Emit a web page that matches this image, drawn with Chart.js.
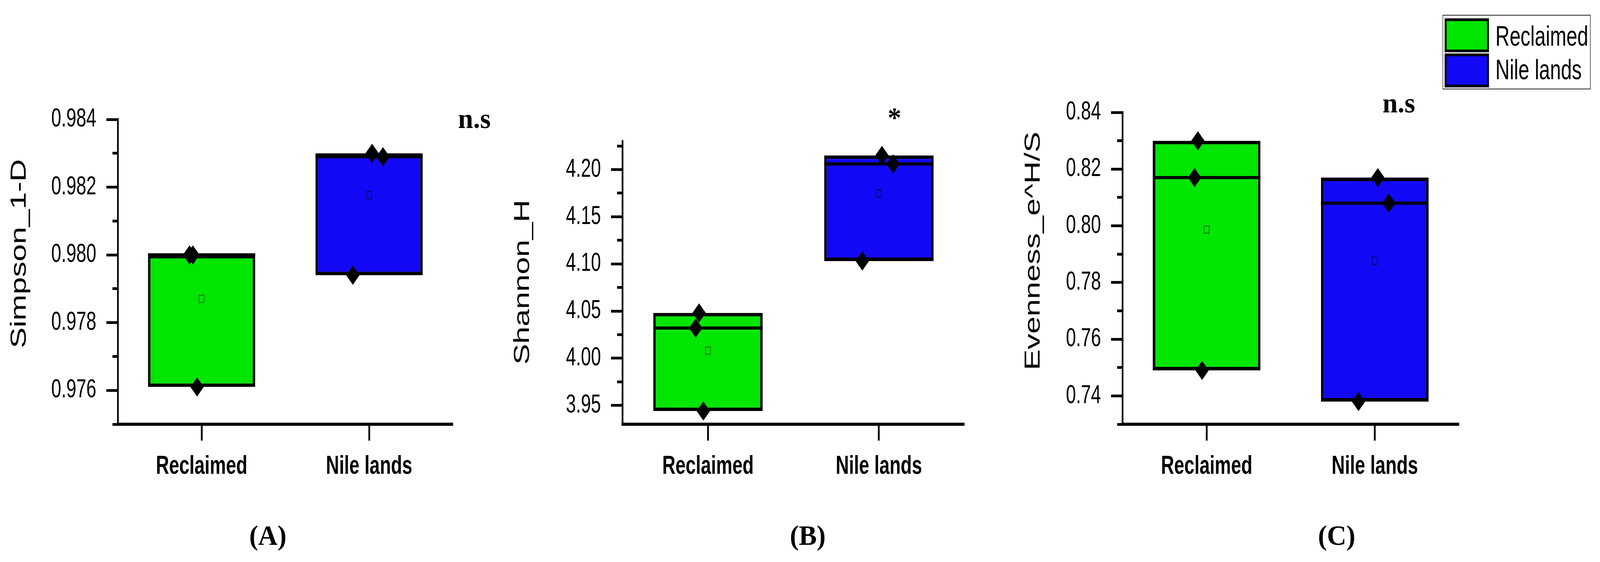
<!DOCTYPE html>
<html>
<head>
<meta charset="utf-8">
<script src="https://cdn.jsdelivr.net/npm/chart.js@4.4.1/dist/chart.umd.min.js"></script>
<style>
  html, body { margin: 0; padding: 0; background: #fff; overflow: hidden; }
  #page { position: relative; width: 4223px; height: 1440px; overflow: hidden; transform-origin: 0 0; }
  /* the source figure is squeezed horizontally, so the plots are drawn wide and compressed */
  #plots { position: absolute; left: 0; top: 0; width: 5866px; height: 1440px; transform: scaleX(0.72); transform-origin: 0 0; }
  #plots canvas { position: absolute; top: 0; }
  .note { position: absolute; font-family: 'Liberation Serif', 'Times New Roman', serif; font-weight: bold; line-height: 1; white-space: nowrap; transform: translateX(-50%); color: #000; }
  .lg { position: absolute; box-sizing: border-box; }
  .lg-text { position: absolute; font-family: 'Liberation Sans', Arial, sans-serif; font-size: 72px; line-height: 1; white-space: nowrap; color: #000; }
</style>
</head>
<body>
<div id="page">
  <div id="plots">
    <canvas id="chartA" width="1800" height="1440" style="left:0px"></canvas>
    <canvas id="chartB" width="1900" height="1440" style="left:1800px"></canvas>
    <canvas id="chartC" width="2166" height="1440" style="left:3700px"></canvas>
  </div>
</div>
<script>
// data
const categories = ['Reclaimed', 'Nile lands'];

const simpsonReclaimed = [0.9800, 0.9800, 0.9761];
const simpsonNile = [0.9830, 0.9829, 0.9794];
const shannonReclaimed = [4.048, 4.032, 3.944];
const shannonNile = [4.215, 4.206, 4.103];
const evennessReclaimed = [0.830, 0.817, 0.749];
const evennessNile = [0.817, 0.808, 0.738];

const simpsonTicks = ['0.976', '0.978', '0.980', '0.982', '0.984'];
const shannonTicks = ['3.95', '4.00', '4.05', '4.10', '4.15', '4.20'];
const evennessTicks = ['0.74', '0.76', '0.78', '0.80', '0.82', '0.84'];

const axisTitles = ['Simpson_1-D', 'Shannon_H', 'Evenness_e^H/S'];
const significance = ['n.s', '*', 'n.s'];
const panelLetters = ['(A)', '(B)', '(C)'];

// styles
const FILL = ['#00e600', '#1208f5'];
const MEAN_EDGE = ['#007a00', '#08066e'];
const JITTER = [[-0.052, -0.072, -0.027], [0.018, 0.083, -0.097]];
const CHART_BOTTOM = 1087;
const X_AXIS_HEIGHT = 250;

// fit the 4223x1440 design to whatever viewport we get
const page = document.getElementById('page');
const vw = document.documentElement.clientWidth || window.innerWidth;
const vh = document.documentElement.clientHeight || window.innerHeight;
page.style.transform = 'scale(' + (vw / 4223) + ',' + (vh / 1440) + ')';

Chart.defaults.font.family = "'Liberation Sans', Arial, sans-serif";
Chart.defaults.color = '#000';

const panels = [
  { id: 'chartA', groups: [simpsonReclaimed, simpsonNile], tickLabels: simpsonTicks, min: 0.975, max: 0.984,
    yWidth: 432, top: 306, right: 140, titleX: 72, titleY: 650 },
  { id: 'chartB', groups: [shannonReclaimed, shannonNile], tickLabels: shannonTicks, min: 3.93, max: 4.23,
    yWidth: 482, top: 362, right: 165, titleX: 117, titleY: 723 },
  { id: 'chartC', groups: [evennessReclaimed, evennessNile], tickLabels: evennessTicks, min: 0.73, max: 0.84,
    yWidth: 415, top: 288, right: 518, titleX: 89, titleY: 643 }
];

// labelled ticks plus unlabelled half-step ticks
function buildTicks(labels, min, max) {
  const majors = labels.map(t => ({ value: parseFloat(t), text: t, minor: false }));
  const step = majors[1].value - majors[0].value;
  const minors = [];
  for (let i = -1; i < majors.length; i++) {
    const base = i < 0 ? majors[0].value - step : majors[i].value;
    const v = +(base + step / 2).toFixed(6);
    if (v >= min - 1e-9 && v <= max + 1e-9) minors.push({ value: v, text: '', minor: true });
  }
  return majors.concat(minors).sort((a, b) => a.value - b.value);
}

function median(arr) {
  const s = [...arr].sort((a, b) => a - b);
  return s[Math.floor(s.length / 2)];
}

const yTitlePlugin = {
  id: 'yTitle',
  afterDraw(chart, args, opts) {
    const ctx = chart.ctx;
    ctx.save();
    ctx.translate(opts.x, opts.y);
    ctx.rotate(-Math.PI / 2);
    ctx.font = "80px 'Liberation Sans', Arial, sans-serif";
    ctx.fillStyle = '#000';
    ctx.textAlign = 'center';
    ctx.textBaseline = 'middle';
    ctx.fillText(opts.text, 0, 0);
    ctx.restore();
  }
};

panels.forEach((p, idx) => {
  const ticks = buildTicks(p.tickLabels, p.min, p.max);
  const boxes = p.groups.map(g => [Math.min(...g), Math.max(...g)]);
  const medians = p.groups.map(median);
  const means = p.groups.map(g => g.reduce((s, v) => s + v, 0) / g.length);
  const samples = [];
  p.groups.forEach((g, ci) => g.forEach((v, k) => samples.push({ x: ci + JITTER[ci][k], y: v })));

  new Chart(document.getElementById(p.id), {
    type: 'bar',
    data: {
      labels: categories,
      datasets: [
        {
          label: 'range', data: boxes, order: 4, grouped: false,
          backgroundColor: FILL, borderColor: '#000', borderWidth: 9, borderSkipped: false,
          barPercentage: 0.64, categoryPercentage: 1
        },
        {
          type: 'line', label: 'median', data: medians, order: 3, showLine: false,
          pointStyle: 'line', pointBorderColor: '#000', pointBorderWidth: 8,
          pointRadius: ctx => {
            const bar = ctx.chart.getDatasetMeta(0).data[ctx.dataIndex];
            return bar ? bar.width / 2 : 0;
          }
        },
        {
          type: 'line', label: 'mean', data: means, order: 2, showLine: false,
          pointStyle: 'rect', pointRadius: 13, pointBorderWidth: 2.5,
          pointBackgroundColor: 'rgba(0,0,0,0)', pointBorderColor: MEAN_EDGE
        },
        {
          type: 'line', label: 'samples', xAxisID: 'xj', data: samples, order: 1, showLine: false,
          pointStyle: 'rectRot', pointRadius: 24, pointBorderWidth: 1,
          pointBackgroundColor: '#000', pointBorderColor: '#000'
        }
      ]
    },
    options: {
      responsive: false,
      animation: false,
      events: [],
      layout: { padding: { top: p.top, right: p.right, bottom: 1440 - CHART_BOTTOM - X_AXIS_HEIGHT, left: 0 } },
      plugins: {
        legend: { display: false },
        tooltip: { enabled: false },
        yTitle: { text: axisTitles[idx], x: p.titleX, y: p.titleY }
      },
      scales: {
        x: {
          type: 'category', offset: true,
          grid: { offset: false, drawOnChartArea: false, tickLength: 42, tickWidth: 6.5, tickColor: '#000' },
          border: { color: '#000', width: 8 },
          ticks: { color: '#000', font: { size: 67, weight: 'bold' }, padding: 26, maxRotation: 0, autoSkip: false },
          afterFit: s => { s.height = X_AXIS_HEIGHT; }
        },
        xj: { type: 'linear', display: false, offset: false, min: -0.5, max: 1.5 },
        y: {
          type: 'linear', min: p.min, max: p.max,
          afterBuildTicks: s => { s.ticks = ticks.map(t => ({ ...t })); },
          ticks: { color: '#000', font: { size: 66 }, padding: 37, autoSkip: false,
                   callback: (v, i, all) => all[i].text },
          grid: {
            drawOnChartArea: false, tickLength: 42, tickWidth: 7, tickColor: '#000',
            tickBorderDash: ctx => (ctx.tick && ctx.tick.minor) ? [0, 22, 24, 200] : []
          },
          border: { color: '#000', width: 6 },
          afterFit: s => { s.width = p.yWidth; }
        }
      }
    },
    plugins: [yTitlePlugin]
  });
});

// legend (inside the compressed layer)
const plots = document.getElementById('plots');
function addBox(left, top, w, h, css) {
  const d = document.createElement('div');
  d.className = 'lg';
  Object.assign(d.style, { left: left + 'px', top: top + 'px', width: w + 'px', height: h + 'px' }, css);
  plots.appendChild(d);
}
addBox(5288, 38, 543, 191, { border: '2px solid #222', background: '#fff' });
const swatchTops = [47, 137];
const textBaselines = [117, 203];
categories.forEach((c, i) => {
  addBox(5296, swatchTops[i], 162, 87, { border: '7px solid #000', background: FILL[i] });
  const t = document.createElement('div');
  t.className = 'lg-text';
  t.textContent = c;
  t.style.left = '5482px';
  t.style.top = (textBaselines[i] - 0.8465 * 72) + 'px';
  plots.appendChild(t);
});

// significance marks and panel letters (not compressed)
const notes = [
  { text: significance[0], x: 1252, base: 328, size: 72 },
  { text: significance[1], x: 2361, base: 325, size: 72 },
  { text: significance[2], x: 3692, base: 288, size: 72 },
  { text: panelLetters[0], x: 707, base: 1396, size: 71 },
  { text: panelLetters[1], x: 2132, base: 1396, size: 71 },
  { text: panelLetters[2], x: 3528, base: 1396, size: 71 }
];
notes.forEach(n => {
  const d = document.createElement('div');
  d.className = 'note';
  d.textContent = n.text;
  d.style.fontSize = n.size + 'px';
  d.style.left = n.x + 'px';
  d.style.top = (n.base - 0.8375 * n.size) + 'px';
  page.appendChild(d);
});
</script>
</body>
</html>
